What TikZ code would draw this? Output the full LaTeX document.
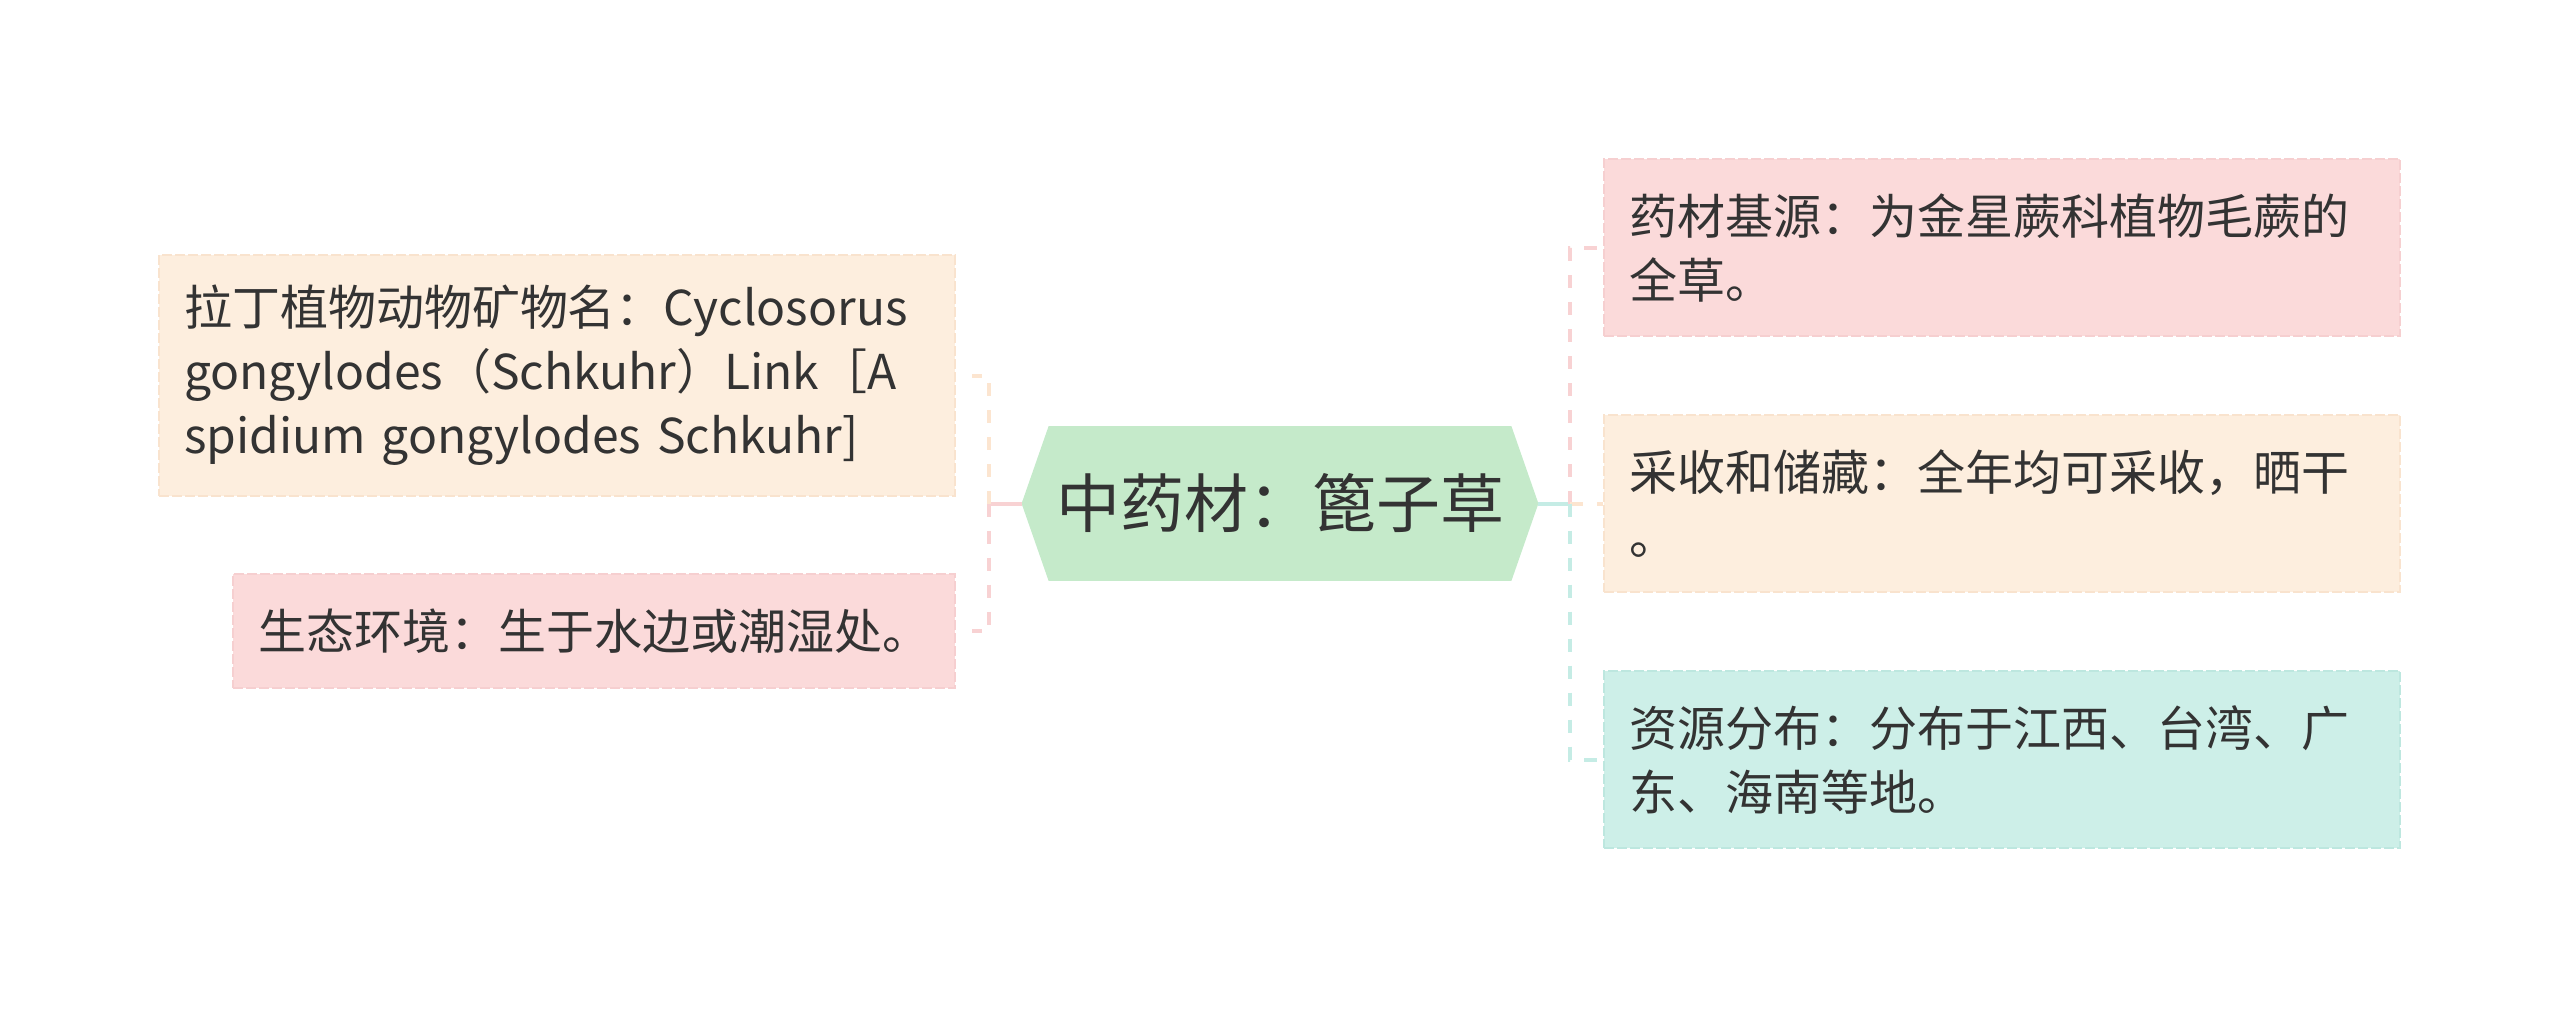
\documentclass[tikz,border=0pt]{standalone}
\usepackage{fontspec}
\setmainfont{Noto Sans CJK SC}
\usetikzlibrary{backgrounds}
\definecolor{pinkF}{HTML}{FBDADA}
\definecolor{pinkD}{HTML}{F6CFD0}
\definecolor{creamF}{HTML}{FDEEDE}
\definecolor{creamD}{HTML}{F9E3CE}
\definecolor{tealF}{HTML}{CDEFE8}
\definecolor{tealD}{HTML}{BDE7DF}
\definecolor{greenF}{HTML}{C5EACA}
\definecolor{pinkL}{HTML}{F8D2D3}
\definecolor{creamL}{HTML}{FCE5D0}
\definecolor{tealL}{HTML}{C5ECE5}
\definecolor{txt}{HTML}{333333}
\begin{document}
\begin{tikzpicture}[x=0.5pt,y=-0.5pt,
  box/.style={inner xsep=12.5pt, inner ysep=0pt, align=left,
    font=\fontsize{24pt}{32pt}\selectfont, text=txt, line width=0.8pt,
    dash pattern=on 5pt off 1.5pt, anchor=center},
  link/.style={line width=2pt, dash pattern=on 6.5pt off 7pt},
  solidlink/.style={line width=2pt}]
\useasboundingbox (0,0) rectangle (2560,1008);

\node[box, fill=creamF, draw=creamD, text width=373pt, minimum height=120.5pt] (lt) at (557,375.5)
  {拉丁植物动物矿物名：Cyclosorus\\gongylodes（Schkuhr）Link［A\\spidium gongylodes Schkuhr]};
\node[box, fill=pinkF, draw=pinkD, text width=336pt, minimum height=57pt] (lb) at (594,631)
  {生态环境：生于水边或潮湿处。};

\node[box, fill=pinkF, draw=pinkD, text width=373pt, minimum height=88.5pt] (r1) at (2002,247.5)
  {药材基源：为金星蕨科植物毛蕨的\\全草。};
\node[box, fill=creamF, draw=creamD, text width=373pt, minimum height=88.5pt] (r2) at (2002,503.5)
  {采收和储藏：全年均可采收，晒干\\。};
\node[box, fill=tealF, draw=tealD, text width=373pt, minimum height=88.5pt] (r3) at (2002,759.5)
  {资源分布：分布于江西、台湾、广\\东、海南等地。};

\node[minimum width=258pt, minimum height=77pt, inner sep=0pt,
  font=\fontsize{32pt}{38pt}\selectfont, text=txt] (hub) at (1280,503.5) {中药材：篦子草};
\begin{scope}[on background layer]
  \fill[greenF] (hub.west) -- ([xshift=13.5pt]hub.north west) -- ([xshift=-13.5pt]hub.north east)
    -- (hub.east) -- ([xshift=-13.5pt]hub.south east) -- ([xshift=13.5pt]hub.south west) -- cycle;
\end{scope}

\coordinate (jl) at (989,503.5);
\coordinate (jr) at (1570,503.5);
\draw[solidlink, pinkL] (hub.west) -- (jl);
\draw[link, creamL] (jl) |- ([xshift=8pt]lt.east);
\draw[link, pinkL] (jl) |- ([xshift=8pt]lb.east);
\draw[solidlink, tealL] (hub.east) -- (jr);
\draw[link, pinkL] (jr) |- (r1.west);
\draw[link, creamL] (jr) -- (r2.west);
\draw[link, tealL] (jr) |- (r3.west);
\end{tikzpicture}
\end{document}
